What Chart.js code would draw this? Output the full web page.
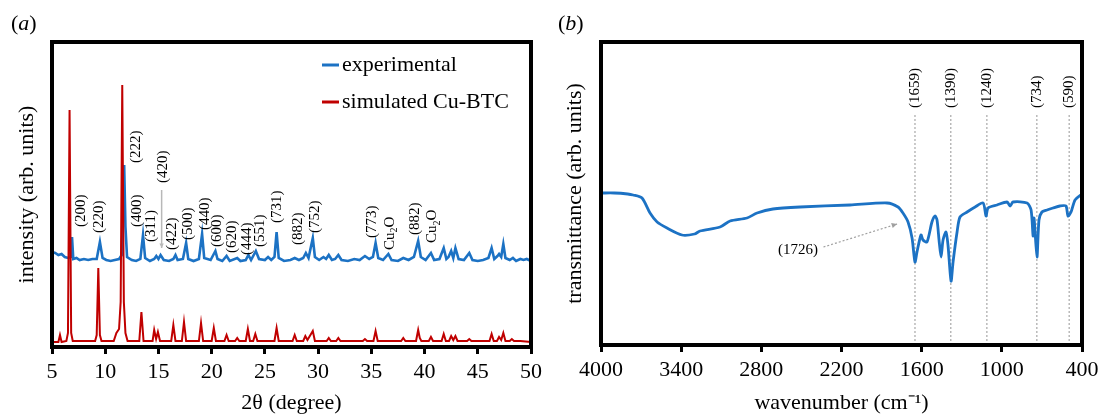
<!DOCTYPE html>
<html>
<head>
<meta charset="utf-8">
<script src="https://cdn.jsdelivr.net/npm/chart.js@4/dist/chart.umd.min.js"></script>
<style>
  body { margin: 0; background: #fff; width: 1100px; height: 417px; overflow: hidden; position: relative; }
  canvas { position: absolute; top: 0; }
  #xrd { left: 0; }
  #ftir { left: 550px; }
</style>
</head>
<body>
<canvas id="xrd" width="550" height="417"></canvas>
<canvas id="ftir" width="550" height="417"></canvas>
<script>
// (a) XRD: simulated Cu-BTC pattern (2theta, intensity in arb. units)
const simTheta = [
  5.0, 5.6, 5.75, 5.9, 6.35, 6.5, 6.65, 6.8, 6.95, 9.05,
  9.2, 9.35, 9.5, 9.65, 10.8, 11.05, 11.3, 11.45, 11.6, 11.75,
  11.9, 12.1, 13.2, 13.4, 13.6, 14.45, 14.6, 14.78, 14.95, 15.15,
  16.2, 16.4, 16.6, 17.2, 17.4, 17.6, 18.8, 19.0, 19.2, 20.0,
  20.2, 20.4, 21.2, 21.4, 21.6, 22.2, 22.4, 22.6, 23.2, 23.4,
  23.6, 23.9, 24.1, 24.3, 25.9, 26.1, 26.3, 27.6, 27.8, 28.0,
  28.6, 28.8, 29.0, 29.5, 29.7, 30.8, 31.0, 31.2, 31.7, 31.9,
  32.1, 34.2, 34.4, 34.6, 35.2, 35.4, 35.6, 37.8, 38.0, 38.2,
  39.2, 39.4, 39.55, 39.7, 40.4, 40.6, 40.8, 41.6, 41.8, 42.0,
  42.3, 42.5, 42.7, 42.9, 43.1, 44.0, 44.2, 44.4, 46.1, 46.3,
  46.5, 46.8, 47.0, 47.2, 47.4, 47.6, 48.0, 48.2, 48.4, 49.0,
  50.0
];
const simInt = [
  5, 5, 12, 5, 6, 14, 237, 14, 6, 6,
  12, 79, 12, 6, 6, 14, 18, 45, 262, 45,
  14, 6, 6, 35, 6, 6, 17, 8, 15, 6,
  6, 22, 6, 6, 25, 6, 6, 24, 6, 6,
  19, 6, 6, 12, 6, 6, 9, 6, 6, 18,
  6, 6, 13, 6, 6, 19, 6, 6, 12, 6,
  6, 11, 7, 16, 6, 6, 9, 6, 6, 9,
  6, 6, 8, 6, 6, 16, 6, 6, 9, 6,
  6, 17, 9, 6, 6, 10, 6, 6, 13, 6,
  6, 11, 7, 11, 6, 6, 8, 6, 6, 13,
  6, 6, 10, 7, 14, 6, 6, 8, 6, 6,
  5
];

// (a) XRD: experimental pattern
const expTheta = [
  5.0, 5.3, 5.6, 5.9, 6.2, 6.5, 6.75, 6.88, 7.0, 7.3,
  7.6, 8.0, 8.4, 8.8, 9.2, 9.5, 9.75, 10.1, 10.5, 10.9,
  11.3, 11.55, 11.68, 11.78, 11.9, 12.05, 12.5, 12.9, 13.3, 13.55,
  13.75, 14.2, 14.6, 14.8, 15.0, 15.2, 15.5, 16.0, 16.4, 16.6,
  16.8, 17.3, 17.6, 17.8, 18.3, 18.8, 19.1, 19.3, 19.9, 20.35,
  20.55, 21.0, 21.4, 21.7, 22.4, 22.7, 23.2, 23.45, 23.7, 24.15,
  24.45, 25.0, 25.3, 25.6, 25.9, 26.1, 26.3, 26.8, 27.4, 27.8,
  28.2, 28.6, 28.85, 29.1, 29.5, 29.7, 30.1, 30.5, 30.75, 31.0,
  31.3, 31.6, 31.9, 32.2, 32.8, 33.4, 33.9, 34.4, 34.8, 35.15,
  35.4, 35.65, 36.1, 36.6, 36.9, 37.5, 38.0, 38.5, 39.0, 39.4,
  39.65, 40.1, 40.6, 40.9, 41.4, 41.8, 42.05, 42.25, 42.5, 42.7,
  42.9, 43.2, 43.7, 44.2, 44.5, 45.0, 45.5, 46.0, 46.3, 46.55,
  46.85, 47.0, 47.2, 47.4, 47.6, 48.0, 48.3, 48.6, 49.0, 49.3,
  49.6, 50.0
];
const expInt = [
  95, 94, 92, 93, 90, 89, 90, 110, 88, 89,
  87, 88, 87, 88, 88, 105, 89, 87, 86, 87,
  88, 92, 140, 182, 120, 90, 87, 86, 88, 112,
  89, 86, 88, 91, 88, 92, 87, 86, 88, 92,
  87, 88, 104, 88, 86, 88, 113, 89, 87, 96,
  88, 86, 91, 86, 89, 86, 87, 92, 87, 96,
  88, 87, 90, 87, 90, 115, 89, 86, 87, 89,
  87, 89, 94, 89, 109, 90, 87, 90, 88, 92,
  87, 88, 92, 87, 86, 88, 87, 91, 88, 90,
  104, 89, 87, 93, 87, 86, 89, 87, 90, 106,
  90, 87, 94, 87, 88, 99, 88, 90, 96, 89,
  99, 88, 87, 94, 87, 86, 87, 89, 99, 88,
  91, 93, 90, 103, 89, 87, 89, 86, 88, 87,
  88, 86
];

// (a) peak labels: text, 2theta, intensity where the text starts
const xrdLabels = ['(200)', '(220)', '(222)', '(400)', '(311)', '(420)', '(422)', '(500)', '(440)', '(600)',
  '(620)', '(444)', '(551)', '(731)', '(882)', '(752)', '(773)', 'Cu2O', '(882)', 'Cu2O'];
const xrdLabelTheta = [7.75, 9.45, 12.9, 13.0, 14.35, 15.4, 16.25, 17.75, 19.35, 20.55,
  21.95, 23.3, 24.55, 26.15, 28.1, 29.75, 35.05, 36.75, 39.15, 40.75];
const xrdLabelInt = [120, 114, 184, 120, 105, 164, 97, 107, 117, 100,
  94, 92, 100, 124, 102, 114, 109, 97, 112, 104];

// (b) FTIR spectrum (wavenumber in cm-1, transmittance in arb. units)
const wavenumber = [
  4000, 3900, 3800, 3760, 3693, 3633, 3580, 3506, 3394, 3300,
  3259, 3109, 3034, 2907, 2832, 2713, 2510, 2136, 1859, 1777,
  1740, 1702, 1672, 1650, 1635, 1605, 1590, 1560, 1523, 1500,
  1485, 1470, 1455, 1440, 1418, 1403, 1380, 1365, 1335, 1313,
  1260, 1200, 1140, 1118, 1103, 1036, 961, 938, 916, 811,
  781, 766, 759, 737, 722, 700, 662, 617, 565, 520,
  505, 482, 452, 400
];
const transmittance = [
  152, 152, 151, 150, 147, 132, 123, 117, 110, 111,
  114, 118, 124, 127, 132, 136, 138, 140, 142, 138,
  132, 123, 107, 83, 93, 110, 105, 103, 123, 129,
  125, 105, 88, 105, 113, 100, 64, 83, 113, 128,
  133, 138, 142, 129, 137, 140, 143, 139, 143, 142,
  135, 109, 127, 88, 125, 133, 135, 137, 139, 139,
  129, 133, 145, 151
];

// (b) band labels and where their guide lines sit on the axis
const irLabels = ['(1659)', '(1390)', '(1240)', '(734)', '(590)'];
const irLineWn = [1650, 1382, 1112, 738, 496];

const SERIF = "'Liberation Serif', 'Times New Roman', serif";
const BLUE = '#1c72c4';
const RED = '#c00000';

Chart.defaults.font.family = SERIF;
Chart.defaults.color = '#000';

const toPts = (xs, ys) => xs.map((x, i) => ({ x, y: ys[i] }));

function xAxis(min, max, step, reverse, title, height) {
  return {
    type: 'linear', min, max, reverse,
    ticks: { stepSize: step, font: { size: 22 }, color: '#000', padding: 5, maxRotation: 0, autoSkip: false,
      callback: v => String(v) },
    grid: { drawOnChartArea: false, drawTicks: true, tickLength: 7, tickWidth: 3, tickColor: '#000' },
    border: { display: false },
    title: { display: true, text: title, font: { size: 22 }, color: '#000', padding: { top: 0, bottom: 1 } },
    afterFit: a => { a.height = height; a.paddingLeft = 0; a.paddingRight = 0; }
  };
}

function yAxis(max, title, width, titlePad) {
  return {
    type: 'linear', min: 0, max,
    ticks: { display: false },
    grid: { display: false },
    border: { display: false },
    title: { display: true, text: title, font: { size: 22 }, color: '#000', padding: { top: titlePad, bottom: 0 } },
    afterFit: a => { a.width = width; }
  };
}

// rotated label, starting at (x, y) and reading upwards
function vText(ctx, text, x, y, size) {
  ctx.save();
  ctx.translate(x, y);
  ctx.rotate(-Math.PI / 2);
  ctx.font = size + 'px ' + SERIF;
  ctx.textAlign = 'left';
  ctx.textBaseline = 'middle';
  if (text === 'Cu2O') {
    ctx.fillText('Cu', 0, 0);
    let w = ctx.measureText('Cu').width;
    ctx.font = Math.round(size * 0.68) + 'px ' + SERIF;
    ctx.fillText('2', w, size * 0.3);
    w += ctx.measureText('2').width;
    ctx.font = size + 'px ' + SERIF;
    ctx.fillText('O', w, 0);
  } else {
    ctx.fillText(text, 0, 0);
  }
  ctx.restore();
}

function panelLabel(ctx, letter, x, y) {
  ctx.save();
  ctx.textAlign = 'left';
  ctx.textBaseline = 'alphabetic';
  ctx.fillStyle = '#000';
  ctx.font = '22px ' + SERIF;
  ctx.fillText('(', x, y);
  let w = ctx.measureText('(').width;
  ctx.font = 'italic 22px ' + SERIF;
  ctx.fillText(letter, x + w, y);
  w += ctx.measureText(letter).width;
  ctx.font = '22px ' + SERIF;
  ctx.fillText(')', x + w, y);
  ctx.restore();
}

function frame(chart) {
  const { ctx, chartArea: a } = chart;
  ctx.save();
  ctx.strokeStyle = '#000';
  ctx.lineWidth = 4;
  ctx.strokeRect(a.left, a.top, a.right - a.left, a.bottom - a.top);
  ctx.restore();
}

function arrowHead(ctx, x0, y0, x1, y1, size) {
  const ang = Math.atan2(y1 - y0, x1 - x0);
  ctx.beginPath();
  ctx.moveTo(x1, y1);
  ctx.lineTo(x1 - size * Math.cos(ang - 0.45), y1 - size * Math.sin(ang - 0.45));
  ctx.lineTo(x1 - size * Math.cos(ang + 0.45), y1 - size * Math.sin(ang + 0.45));
  ctx.closePath();
  ctx.fill();
}

const xrdDecor = {
  id: 'xrdDecor',
  afterDraw(chart) {
    const { ctx, scales: { x, y } } = chart;
    frame(chart);
    panelLabel(ctx, 'a', 11, 30);

    // leader for (420)
    ctx.save();
    ctx.strokeStyle = '#b8b8b8';
    ctx.fillStyle = '#b8b8b8';
    ctx.lineWidth = 1.5;
    const lx = x.getPixelForValue(15.3);
    const ly0 = y.getPixelForValue(157), ly1 = y.getPixelForValue(99);
    ctx.beginPath(); ctx.moveTo(lx, ly0); ctx.lineTo(lx, ly1); ctx.stroke();
    arrowHead(ctx, lx, ly0, lx, ly1, 5);
    ctx.restore();

    ctx.save();
    ctx.fillStyle = '#000';
    xrdLabels.forEach((t, i) => {
      vText(ctx, t, x.getPixelForValue(xrdLabelTheta[i]), y.getPixelForValue(xrdLabelInt[i]), 15);
    });
    ctx.restore();

    // legend
    ctx.save();
    ctx.lineWidth = 3;
    ctx.font = '22px ' + SERIF;
    ctx.textAlign = 'left';
    ctx.textBaseline = 'middle';
    ctx.fillStyle = '#000';
    [['experimental', BLUE, 65], ['simulated Cu-BTC', RED, 102]].forEach(([t, c, ty]) => {
      ctx.strokeStyle = c;
      ctx.beginPath(); ctx.moveTo(322, ty); ctx.lineTo(339, ty); ctx.stroke();
      ctx.fillText(t, 342, ty);
    });
    ctx.restore();
  }
};

const ftirDecor = {
  id: 'ftirDecor',
  beforeDatasetsDraw(chart) {
    const { ctx, scales: { x, y } } = chart;
    ctx.save();
    ctx.strokeStyle = '#a8a8a8';
    ctx.lineWidth = 1.2;
    ctx.setLineDash([2, 2]);
    irLineWn.forEach(w => {
      const px = x.getPixelForValue(w);
      ctx.beginPath(); ctx.moveTo(px, y.getPixelForValue(230)); ctx.lineTo(px, y.getPixelForValue(0)); ctx.stroke();
    });
    ctx.restore();
  },
  afterDraw(chart) {
    const { ctx, scales: { x, y } } = chart;
    frame(chart);
    panelLabel(ctx, 'b', 8, 30);

    ctx.save();
    ctx.fillStyle = '#000';
    irLabels.forEach((t, i) => vText(ctx, t, x.getPixelForValue(irLineWn[i]), y.getPixelForValue(237), 15));

    // (1726) callout
    ctx.font = '15px ' + SERIF;
    ctx.textAlign = 'center';
    ctx.textBaseline = 'middle';
    ctx.fillText('(1726)', x.getPixelForValue(2525), y.getPixelForValue(95));
    const ax0 = x.getPixelForValue(2335), ay0 = y.getPixelForValue(98);
    const ax1 = x.getPixelForValue(1784), ay1 = y.getPixelForValue(121);
    ctx.strokeStyle = '#a0a0a0';
    ctx.fillStyle = '#a0a0a0';
    ctx.lineWidth = 1.2;
    ctx.setLineDash([2, 2]);
    ctx.beginPath(); ctx.moveTo(ax0, ay0); ctx.lineTo(ax1, ay1); ctx.stroke();
    ctx.setLineDash([]);
    arrowHead(ctx, ax0, ay0, ax1, ay1, 6);
    ctx.restore();
  }
};

new Chart(document.getElementById('xrd'), {
  type: 'line',
  data: {
    datasets: [
      { label: 'simulated Cu-BTC', data: toPts(simTheta, simInt), borderColor: RED, borderWidth: 2,
        pointRadius: 0, tension: 0, order: 0 },
      { label: 'experimental', data: toPts(expTheta, expInt), borderColor: BLUE, borderWidth: 2.6,
        pointRadius: 0, tension: 0, order: 1 }
    ]
  },
  options: {
    responsive: false,
    animation: false,
    layout: { padding: { left: 0, top: 42, right: 19, bottom: 0 } },
    plugins: { legend: { display: false }, tooltip: { enabled: false } },
    scales: {
      x: xAxis(5, 50, 5, false, '2θ (degree)', 70),
      y: yAxis(305, 'intensity (arb. units)', 52, 14)
    }
  },
  plugins: [xrdDecor]
});

new Chart(document.getElementById('ftir'), {
  type: 'line',
  data: {
    datasets: [
      { label: 'FTIR', data: toPts(wavenumber, transmittance), borderColor: BLUE, borderWidth: 2.8,
        pointRadius: 0, tension: 0.25 }
    ]
  },
  options: {
    responsive: false,
    animation: false,
    layout: { padding: { left: 0, top: 42, right: 18, bottom: 0 } },
    plugins: { legend: { display: false }, tooltip: { enabled: false } },
    scales: {
      x: xAxis(400, 4000, 600, true, 'wavenumber (cm⁻¹)', 72),
      y: yAxis(303, 'transmittance (arb. units)', 51, 12)
    }
  },
  plugins: [ftirDecor]
});
</script>
</body>
</html>
